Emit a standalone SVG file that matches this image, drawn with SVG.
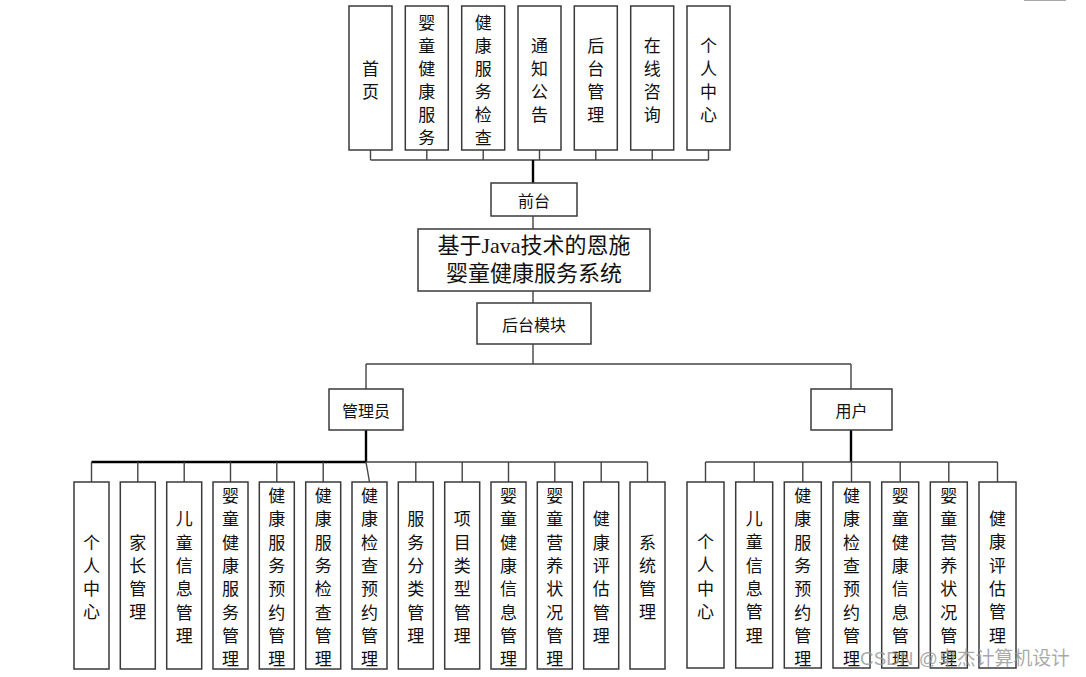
<svg xmlns="http://www.w3.org/2000/svg" width="1086" height="677" viewBox="0 0 1086 677">
<style>
.bx{fill:#fff;stroke:#3a3a3a;stroke-width:1.5}
.ln{fill:none;stroke:#444;stroke-width:1.4}
.tk{fill:none;stroke:#000;stroke-width:2.4}
.v{font-family:"Noto Sans CJK SC","Noto Sans CJK JP",sans-serif;font-size:17px;text-anchor:middle;dominant-baseline:central;fill:#111}
.h{font-family:"Noto Sans CJK SC",sans-serif;font-size:16px;text-anchor:middle;dominant-baseline:central;fill:#111}
.t{font-family:"Liberation Serif","Noto Sans CJK SC",serif;font-size:22px;text-anchor:middle;dominant-baseline:central;fill:#111}
.wm{font-family:"Liberation Sans","Noto Sans CJK SC",sans-serif;font-size:19px;fill:#9a9a9a;fill-opacity:0.85}
</style>
<rect width="1086" height="677" fill="#fff"/>
<line x1="1024" y1="0.5" x2="1066" y2="0.5" stroke="#aaa" stroke-width="1.2"/>
<g id="connectors">
<path class="ln" d="M370.5 150V160M426.8 150V160M483.2 150V160M539.5 150V160M595.8 150V160M652.2 150V160M708.5 150V160M370.5 160H708.5"/>
<path class="tk" d="M533 160V183"/>
<path class="ln" d="M533 216V229M533 291V303M533 344V364M366 364H851M366 364V389M851 364V389"/>
<path class="tk" d="M366 430V462M851 430V462"/>
<path class="tk" d="M91.5 462H366" stroke-width="2"/>
<path class="ln" d="M366 462H647.5M91.5 462V482M137.8 462V482M184.2 462V482M230.5 462V482M276.8 462V482M323.2 462V482M366 462L369.5 482M415.8 462V482M462.2 462V482M508.5 462V482M554.8 462V482M601.2 462V482M647.5 462V482"/>
<path class="ln" d="M705.5 462H997.5M705.5 462V482M754.2 462V482M802.8 462V482M851.5 462V482M900.2 462V482M948.8 462V482M997.5 462V482"/>
</g>
<g id="top-nodes">
<g id="n-shouye"><rect class="bx" x="349" y="6" width="43" height="144"/><text class="v"><tspan x="370.5" y="66.5">首</tspan><tspan x="370.5" dy="23">页</tspan></text></g>
<g id="n-ytjkfw"><rect class="bx" x="405.3" y="6" width="43" height="144"/><text class="v"><tspan x="426.8" y="20.5">婴</tspan><tspan x="426.8" dy="23">童</tspan><tspan x="426.8" dy="23">健</tspan><tspan x="426.8" dy="23">康</tspan><tspan x="426.8" dy="23">服</tspan><tspan x="426.8" dy="23">务</tspan></text></g>
<g id="n-jkfwjc"><rect class="bx" x="461.7" y="6" width="43" height="144"/><text class="v"><tspan x="483.2" y="20.5">健</tspan><tspan x="483.2" dy="23">康</tspan><tspan x="483.2" dy="23">服</tspan><tspan x="483.2" dy="23">务</tspan><tspan x="483.2" dy="23">检</tspan><tspan x="483.2" dy="23">查</tspan></text></g>
<g id="n-tzgg"><rect class="bx" x="518" y="6" width="43" height="144"/><text class="v"><tspan x="539.5" y="43.5">通</tspan><tspan x="539.5" dy="23">知</tspan><tspan x="539.5" dy="23">公</tspan><tspan x="539.5" dy="23">告</tspan></text></g>
<g id="n-htgl"><rect class="bx" x="574.3" y="6" width="43" height="144"/><text class="v"><tspan x="595.8" y="43.5">后</tspan><tspan x="595.8" dy="23">台</tspan><tspan x="595.8" dy="23">管</tspan><tspan x="595.8" dy="23">理</tspan></text></g>
<g id="n-zxzx"><rect class="bx" x="630.7" y="6" width="43" height="144"/><text class="v"><tspan x="652.2" y="43.5">在</tspan><tspan x="652.2" dy="23">线</tspan><tspan x="652.2" dy="23">咨</tspan><tspan x="652.2" dy="23">询</tspan></text></g>
<g id="n-grzx-top"><rect class="bx" x="687" y="6" width="43" height="144"/><text class="v"><tspan x="708.5" y="43.5">个</tspan><tspan x="708.5" dy="23">人</tspan><tspan x="708.5" dy="23">中</tspan><tspan x="708.5" dy="23">心</tspan></text></g>
</g>
<g id="n-qiantai"><rect class="bx" x="491" y="183" width="86" height="33"/><text class="h" x="534" y="199.5">前台</text></g>
<g id="n-root"><rect class="bx" x="418" y="229" width="232" height="62"/><text class="t" x="534" y="245">基于Java技术的恩施</text><text class="t" x="534" y="273">婴童健康服务系统</text></g>
<g id="n-houtai"><rect class="bx" x="477" y="303" width="114" height="41"/><text class="h" x="534" y="324">后台模块</text></g>
<g id="n-admin"><rect class="bx" x="329" y="389" width="74" height="41"/><text class="h" x="366" y="410">管理员</text></g>
<g id="n-user"><rect class="bx" x="811" y="389" width="81" height="41"/><text class="h" x="851.5" y="410">用户</text></g>
<g id="admin-nodes">
<g id="a1"><rect class="bx" x="74" y="482" width="35" height="187"/><text class="v"><tspan x="91.5" y="540.5">个</tspan><tspan x="91.5" dy="23.3">人</tspan><tspan x="91.5" dy="23.3">中</tspan><tspan x="91.5" dy="23.3">心</tspan></text></g>
<g id="a2"><rect class="bx" x="120.3" y="482" width="35" height="187"/><text class="v"><tspan x="137.8" y="540.5">家</tspan><tspan x="137.8" dy="23.3">长</tspan><tspan x="137.8" dy="23.3">管</tspan><tspan x="137.8" dy="23.3">理</tspan></text></g>
<g id="a3"><rect class="bx" x="166.7" y="482" width="35" height="187"/><text class="v"><tspan x="184.2" y="517.3">儿</tspan><tspan x="184.2" dy="23.3">童</tspan><tspan x="184.2" dy="23.3">信</tspan><tspan x="184.2" dy="23.3">息</tspan><tspan x="184.2" dy="23.3">管</tspan><tspan x="184.2" dy="23.3">理</tspan></text></g>
<g id="a4"><rect class="bx" x="213" y="482" width="35" height="187"/><text class="v"><tspan x="230.5" y="494">婴</tspan><tspan x="230.5" dy="23.3">童</tspan><tspan x="230.5" dy="23.3">健</tspan><tspan x="230.5" dy="23.3">康</tspan><tspan x="230.5" dy="23.3">服</tspan><tspan x="230.5" dy="23.3">务</tspan><tspan x="230.5" dy="23.3">管</tspan><tspan x="230.5" dy="23.3">理</tspan></text></g>
<g id="a5"><rect class="bx" x="259.3" y="482" width="35" height="187"/><text class="v"><tspan x="276.8" y="494">健</tspan><tspan x="276.8" dy="23.3">康</tspan><tspan x="276.8" dy="23.3">服</tspan><tspan x="276.8" dy="23.3">务</tspan><tspan x="276.8" dy="23.3">预</tspan><tspan x="276.8" dy="23.3">约</tspan><tspan x="276.8" dy="23.3">管</tspan><tspan x="276.8" dy="23.3">理</tspan></text></g>
<g id="a6"><rect class="bx" x="305.7" y="482" width="35" height="187"/><text class="v"><tspan x="323.2" y="494">健</tspan><tspan x="323.2" dy="23.3">康</tspan><tspan x="323.2" dy="23.3">服</tspan><tspan x="323.2" dy="23.3">务</tspan><tspan x="323.2" dy="23.3">检</tspan><tspan x="323.2" dy="23.3">查</tspan><tspan x="323.2" dy="23.3">管</tspan><tspan x="323.2" dy="23.3">理</tspan></text></g>
<g id="a7"><rect class="bx" x="352" y="482" width="35" height="187"/><text class="v"><tspan x="369.5" y="494">健</tspan><tspan x="369.5" dy="23.3">康</tspan><tspan x="369.5" dy="23.3">检</tspan><tspan x="369.5" dy="23.3">查</tspan><tspan x="369.5" dy="23.3">预</tspan><tspan x="369.5" dy="23.3">约</tspan><tspan x="369.5" dy="23.3">管</tspan><tspan x="369.5" dy="23.3">理</tspan></text></g>
<g id="a8"><rect class="bx" x="398.3" y="482" width="35" height="187"/><text class="v"><tspan x="415.8" y="517.3">服</tspan><tspan x="415.8" dy="23.3">务</tspan><tspan x="415.8" dy="23.3">分</tspan><tspan x="415.8" dy="23.3">类</tspan><tspan x="415.8" dy="23.3">管</tspan><tspan x="415.8" dy="23.3">理</tspan></text></g>
<g id="a9"><rect class="bx" x="444.7" y="482" width="35" height="187"/><text class="v"><tspan x="462.2" y="517.3">项</tspan><tspan x="462.2" dy="23.3">目</tspan><tspan x="462.2" dy="23.3">类</tspan><tspan x="462.2" dy="23.3">型</tspan><tspan x="462.2" dy="23.3">管</tspan><tspan x="462.2" dy="23.3">理</tspan></text></g>
<g id="a10"><rect class="bx" x="491" y="482" width="35" height="187"/><text class="v"><tspan x="508.5" y="494">婴</tspan><tspan x="508.5" dy="23.3">童</tspan><tspan x="508.5" dy="23.3">健</tspan><tspan x="508.5" dy="23.3">康</tspan><tspan x="508.5" dy="23.3">信</tspan><tspan x="508.5" dy="23.3">息</tspan><tspan x="508.5" dy="23.3">管</tspan><tspan x="508.5" dy="23.3">理</tspan></text></g>
<g id="a11"><rect class="bx" x="537.3" y="482" width="35" height="187"/><text class="v"><tspan x="554.8" y="494">婴</tspan><tspan x="554.8" dy="23.3">童</tspan><tspan x="554.8" dy="23.3">营</tspan><tspan x="554.8" dy="23.3">养</tspan><tspan x="554.8" dy="23.3">状</tspan><tspan x="554.8" dy="23.3">况</tspan><tspan x="554.8" dy="23.3">管</tspan><tspan x="554.8" dy="23.3">理</tspan></text></g>
<g id="a12"><rect class="bx" x="583.7" y="482" width="35" height="187"/><text class="v"><tspan x="601.2" y="517.3">健</tspan><tspan x="601.2" dy="23.3">康</tspan><tspan x="601.2" dy="23.3">评</tspan><tspan x="601.2" dy="23.3">估</tspan><tspan x="601.2" dy="23.3">管</tspan><tspan x="601.2" dy="23.3">理</tspan></text></g>
<g id="a13"><rect class="bx" x="630" y="482" width="35" height="187"/><text class="v"><tspan x="647.5" y="540.5">系</tspan><tspan x="647.5" dy="23.3">统</tspan><tspan x="647.5" dy="23.3">管</tspan><tspan x="647.5" dy="23.3">理</tspan></text></g>
</g>
<g id="user-nodes">
<g id="u1"><rect class="bx" x="687" y="482" width="37" height="186"/><text class="v"><tspan x="705.5" y="540">个</tspan><tspan x="705.5" dy="23.3">人</tspan><tspan x="705.5" dy="23.3">中</tspan><tspan x="705.5" dy="23.3">心</tspan></text></g>
<g id="u2"><rect class="bx" x="735.7" y="482" width="37" height="186"/><text class="v"><tspan x="754.2" y="517">儿</tspan><tspan x="754.2" dy="23.3">童</tspan><tspan x="754.2" dy="23.3">信</tspan><tspan x="754.2" dy="23.3">息</tspan><tspan x="754.2" dy="23.3">管</tspan><tspan x="754.2" dy="23.3">理</tspan></text></g>
<g id="u3"><rect class="bx" x="784.3" y="482" width="37" height="186"/><text class="v"><tspan x="802.8" y="494">健</tspan><tspan x="802.8" dy="23.3">康</tspan><tspan x="802.8" dy="23.3">服</tspan><tspan x="802.8" dy="23.3">务</tspan><tspan x="802.8" dy="23.3">预</tspan><tspan x="802.8" dy="23.3">约</tspan><tspan x="802.8" dy="23.3">管</tspan><tspan x="802.8" dy="23.3">理</tspan></text></g>
<g id="u4"><rect class="bx" x="833" y="482" width="37" height="186"/><text class="v"><tspan x="851.5" y="494">健</tspan><tspan x="851.5" dy="23.3">康</tspan><tspan x="851.5" dy="23.3">检</tspan><tspan x="851.5" dy="23.3">查</tspan><tspan x="851.5" dy="23.3">预</tspan><tspan x="851.5" dy="23.3">约</tspan><tspan x="851.5" dy="23.3">管</tspan><tspan x="851.5" dy="23.3">理</tspan></text></g>
<g id="u5"><rect class="bx" x="881.7" y="482" width="37" height="186"/><text class="v"><tspan x="900.2" y="494">婴</tspan><tspan x="900.2" dy="23.3">童</tspan><tspan x="900.2" dy="23.3">健</tspan><tspan x="900.2" dy="23.3">康</tspan><tspan x="900.2" dy="23.3">信</tspan><tspan x="900.2" dy="23.3">息</tspan><tspan x="900.2" dy="23.3">管</tspan><tspan x="900.2" dy="23.3">理</tspan></text></g>
<g id="u6"><rect class="bx" x="930.3" y="482" width="37" height="186"/><text class="v"><tspan x="948.8" y="494">婴</tspan><tspan x="948.8" dy="23.3">童</tspan><tspan x="948.8" dy="23.3">营</tspan><tspan x="948.8" dy="23.3">养</tspan><tspan x="948.8" dy="23.3">状</tspan><tspan x="948.8" dy="23.3">况</tspan><tspan x="948.8" dy="23.3">管</tspan><tspan x="948.8" dy="23.3">理</tspan></text></g>
<g id="u7"><rect class="bx" x="979" y="482" width="37" height="186"/><text class="v"><tspan x="997.5" y="517">健</tspan><tspan x="997.5" dy="23.3">康</tspan><tspan x="997.5" dy="23.3">评</tspan><tspan x="997.5" dy="23.3">估</tspan><tspan x="997.5" dy="23.3">管</tspan><tspan x="997.5" dy="23.3">理</tspan></text></g>
</g>
<text class="wm" x="860" y="665" textLength="210" lengthAdjust="spacingAndGlyphs">CSDN @卓杰计算机设计</text>
</svg>
